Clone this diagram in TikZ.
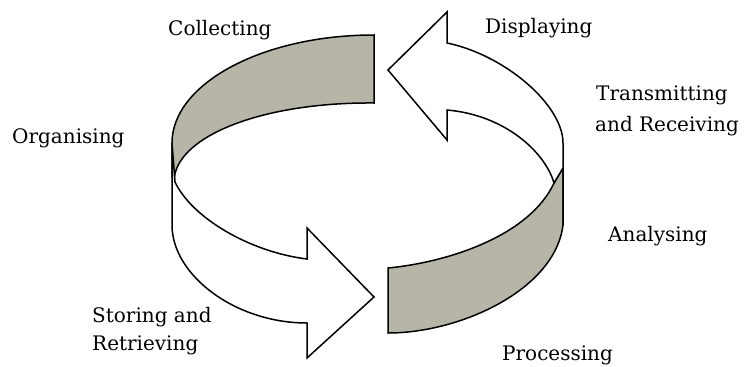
\documentclass[tikz,border=0pt]{standalone}
\usepackage{fontspec}
\setmainfont{DejaVu Serif}
\definecolor{band}{RGB}{182,181,168}
\begin{document}
\begin{tikzpicture}[x=1pt,y=-1pt,
  outl/.style={draw=black,line width=1.5pt,line join=miter},
  grayband/.style={outl,fill=band},
  whitearrow/.style={outl,fill=white},
  lbl/.style={anchor=base west,inner sep=0pt,font=\fontsize{20}{30}\selectfont}]
\useasboundingbox (0,0) rectangle (745,367);
% top gray band (Collecting)
\path[grayband] (374,35) -- (374,103) .. controls (261,102) and (174,137) .. (174,182)
  -- (172,176) -- (172,143) .. controls (172,84) and (262,35) .. (374,35) -- cycle;
% bottom gray band (Processing)
\path[grayband] (388,268) .. controls (450,262) and (530,235) .. (554,183)
  -- (563,168) -- (563,225) .. controls (555,290) and (460,333) .. (388,333) -- cycle;
% left white arrow (Storing and Retrieving)
\path[whitearrow] (172,143) -- (172,225) .. controls (172,275) and (235,323) .. (307,323)
  -- (307,358) -- (374,297) -- (307,228) -- (307,259)
  .. controls (250,252) and (192,218) .. (175,182) -- cycle;
% right white arrow (Displaying)
\path[whitearrow] (563,225) -- (563,143) .. controls (563,105) and (505,55) .. (447,43)
  -- (447,12) -- (388,70) -- (447,140) -- (447,110)
  .. controls (505,115) and (545,152) .. (554,183) -- (563,168) -- cycle;
% labels
\node[lbl] (collecting) at (168,35) {Collecting};
\node[lbl] (displaying) at (485,33) {Displaying};
\node[lbl] (organising) at (12,143) {Organising};
\node[lbl] (transmitting) at (596,100) {Transmitting};
\node[lbl] (receiving) at (595,131) {and Receiving};
\node[lbl] (analysing) at (608,241) {Analysing};
\node[lbl] (storing) at (92,322) {Storing and};
\node[lbl] (retrieving) at (92,350) {Retrieving};
\node[lbl] (processing) at (502,360) {Processing};
\end{tikzpicture}
\end{document}
